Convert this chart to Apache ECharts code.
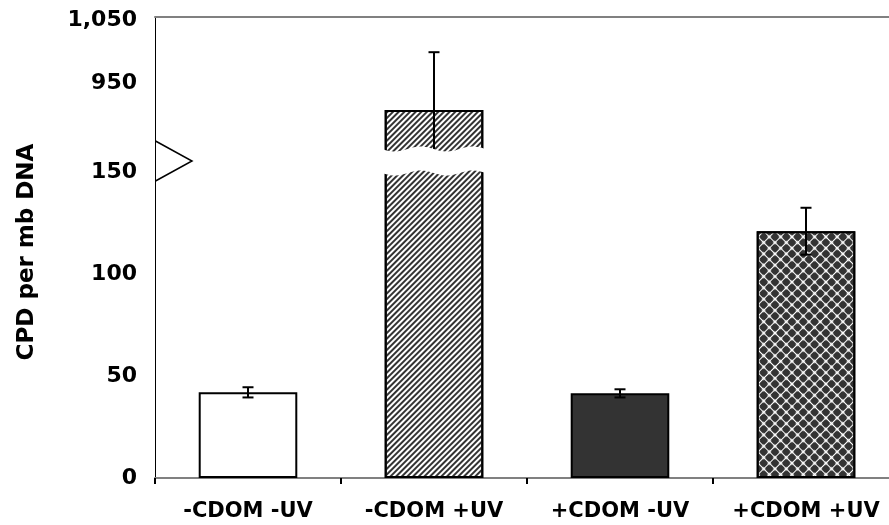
<!DOCTYPE html>
<html>
<head>
<meta charset="utf-8">
<script src="https://cdn.jsdelivr.net/npm/echarts@6/dist/echarts.min.js"></script>
<style>
  html, body { margin: 0; padding: 0; background: #fff; }
  #chart { width: 889px; height: 525px; }
</style>
</head>
<body>
<div id="chart"></div>
<script>
// ---- data ----
const categories = ['-CDOM -UV', '-CDOM +UV', '+CDOM -UV', '+CDOM +UV'];
const cpdMeans = [42, 907, 41.5, 121];
const cpdErrors = [2.5, 92, 2, 11.5];
const lowerTickLabels = [0, 50, 100, 150];
const upperTickLabels = [950, 1050];
const yTitle = 'CPD per mb DNA';

// ---- axis ranges (broken axis: two panels) ----
const upperMin = 837, upperMax = 1055;
const lowerMin = 0, lowerMax = 152;

// ---- styles ----
const FONT = 'DejaVu Sans';
const barStyles = [
  { color: '#ffffff', borderColor: '#000', borderWidth: 2 },
  { color: '#ffffff', borderColor: '#000', borderWidth: 2,
    decal: { symbol: 'rect', symbolSize: 1, dashArrayX: [1, 0], dashArrayY: [2, 2],
             rotation: -Math.PI / 4, color: '#333333' } },
  { color: '#333333', borderColor: '#000', borderWidth: 2 },
  { color: '#ffffff', borderColor: '#000', borderWidth: 2,
    decal: { symbol: 'roundRect', symbolSize: 1, dashArrayX: [6.5, 1], dashArrayY: [6.5, 1],
             rotation: Math.PI / 4, color: '#333333' } }
];

const chart = echarts.init(document.getElementById('chart'), null, { renderer: 'canvas' });

function errorBars(gi) {
  return {
    type: 'custom', xAxisIndex: gi, yAxisIndex: gi, clip: true, z: 5,
    data: categories.map((c, i) => [i, cpdMeans[i], cpdErrors[i]]),
    encode: { x: 0, y: 1 },
    renderItem: function (params, api) {
      const i = api.value(0), m = api.value(1), e = api.value(2);
      const hi = api.coord([i, m + e]);
      const lo = api.coord([i, m - e]);
      const x = hi[0], w = 5.5;
      const st = { stroke: '#000', lineWidth: 2 };
      return { type: 'group', children: [
        { type: 'line', shape: { x1: x, y1: hi[1], x2: x, y2: lo[1] }, style: st },
        { type: 'line', shape: { x1: x - w, y1: hi[1], x2: x + w, y2: hi[1] }, style: st },
        { type: 'line', shape: { x1: x - w, y1: lo[1], x2: x + w, y2: lo[1] }, style: st }
      ] };
    }
  };
}

const yLabel = { fontFamily: FONT, fontWeight: 'bold', fontSize: 22, color: '#000', margin: 18 };

chart.setOption({
  animation: false,
  backgroundColor: '#fff',
  grid: [
    { left: 155, width: 744, top: 17, height: 137, outerBoundsMode: 'none', containLabel: false },
    { left: 155, width: 744, top: 168, height: 310, outerBoundsMode: 'none', containLabel: false }
  ],
  xAxis: [
    { gridIndex: 0, type: 'category', data: categories, position: 'top',
      axisLine: { onZero: false, lineStyle: { color: '#808080', width: 2 } },
      axisTick: { show: false }, axisLabel: { show: false }, splitLine: { show: false } },
    { gridIndex: 1, type: 'category', data: categories, position: 'bottom',
      axisLine: { onZero: false, lineStyle: { color: '#808080', width: 2 } },
      axisTick: { show: true, interval: 0, length: 6, lineStyle: { color: '#000', width: 2 } },
      axisLabel: { interval: 0, fontFamily: FONT, fontWeight: 'bold', fontSize: 21, color: '#000', margin: 23 },
      splitLine: { show: false } }
  ],
  yAxis: [
    { gridIndex: 0, type: 'value', min: upperMin, max: upperMax,
      axisLine: { show: true, lineStyle: { color: '#000', width: 1 } },
      axisTick: { show: false }, splitLine: { show: false },
      axisLabel: Object.assign({}, yLabel, {
        customValues: upperTickLabels,
        formatter: v => Number(v).toLocaleString('en-US') }) },
    { gridIndex: 1, type: 'value', min: lowerMin, max: lowerMax,
      axisLine: { show: true, lineStyle: { color: '#000', width: 1 } },
      axisTick: { show: false }, splitLine: { show: false },
      axisLabel: Object.assign({}, yLabel, { customValues: lowerTickLabels }) }
  ],
  series: [
    { type: 'bar', xAxisIndex: 0, yAxisIndex: 0, barWidth: '53%', clip: true,
      data: cpdMeans.map((v, i) => ({ value: v > upperMin ? v : '-', itemStyle: barStyles[i] })) },
    { type: 'bar', xAxisIndex: 1, yAxisIndex: 1, barWidth: '53%', clip: true,
      data: cpdMeans.map((v, i) => ({ value: v, itemStyle: barStyles[i] })) },
    errorBars(0),
    errorBars(1)
  ]
});

// ---- decorations: axis break marks ----
const c0 = chart.convertToPixel({ xAxisIndex: 1 }, categories[0]);
const c1 = chart.convertToPixel({ xAxisIndex: 1 }, categories[1]);
const bandW = c1 - c0;
const axisX = c0 - bandW / 2;
const upperBottom = chart.convertToPixel({ yAxisIndex: 0 }, upperMin);
const lowerTop = chart.convertToPixel({ yAxisIndex: 1 }, lowerMax);
const brokenIdx = cpdMeans.findIndex(v => v > lowerMax);
const graphics = [];
// continuous y axis through the gap
graphics.push({ type: 'line', z: 100,
  shape: { x1: axisX + 0.5, y1: upperBottom, x2: axisX + 0.5, y2: lowerTop },
  style: { stroke: '#000', lineWidth: 1 } });
// ">" break marker on the axis
const midY = (upperBottom + lowerTop) / 2;
graphics.push({ type: 'polyline', z: 100,
  shape: { points: [[axisX + 0.5, midY - 20], [axisX + 37, midY], [axisX + 0.5, midY + 20]] },
  style: { stroke: '#000', lineWidth: 1.5, fill: null } });
// white wavy gap through the broken bar
if (brokenIdx >= 0) {
  const cx = chart.convertToPixel({ xAxisIndex: 1 }, categories[brokenIdx]);
  const half = bandW * 0.53 / 2 + 3;
  const x0 = cx - half, x1 = cx + half;
  const topBase = upperBottom - 5, botBase = lowerTop + 5, A = 2.5, P = 52;
  const pts = [];
  for (let x = x0; x <= x1 + 0.01; x += 2) pts.push([x, topBase + A * Math.sin(2 * Math.PI * (x - x0) / P)]);
  for (let x = x1; x >= x0 - 0.01; x -= 2) pts.push([x, botBase + A * Math.sin(2 * Math.PI * (x - x0) / P)]);
  graphics.push({ type: 'polygon', z: 100, shape: { points: pts }, style: { fill: '#fff', stroke: null } });
}
// y axis title
graphics.push({ type: 'text', z: 100, x: 27, y: 252, rotation: Math.PI / 2,
  style: { text: yTitle, fontFamily: FONT, fontWeight: 'bold', fontSize: 23, fill: '#000',
           align: 'center', verticalAlign: 'middle' } });

chart.setOption({ graphic: graphics });
</script>
</body>
</html>
